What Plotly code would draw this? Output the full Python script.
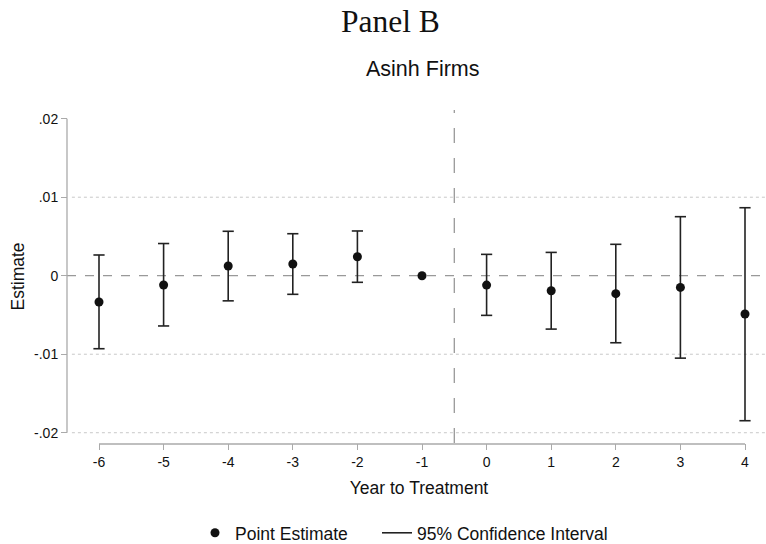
import plotly.graph_objects as go

# ---- data ----
years = [-6, -5, -4, -3, -2, -1, 0, 1, 2, 3, 4]
estimate = [-0.00335, -0.00118, 0.00124, 0.00149, 0.00242, 0.0, -0.00119, -0.00191, -0.00229, -0.00149, -0.00488]
ci_low = [-0.0093, -0.0064, -0.0032, -0.00237, -0.00084, None, -0.00505, -0.0068, -0.00854, -0.0105, -0.01847]
ci_high = [0.00264, 0.0041, 0.00566, 0.00535, 0.0057, None, 0.00272, 0.00297, 0.0040, 0.00752, 0.00866]
y_tick_vals = [-0.02, -0.01, 0, 0.01, 0.02]
y_tick_text = ["-.02", "-.01", "0", ".01", ".02"]
grid_vals = [-0.02, -0.01, 0.01]
treatment_line = -0.5

# build segments for CI whiskers
seg_x, seg_y = [], []
cap_x, cap_y = [], []
for x, lo, hi in zip(years, ci_low, ci_high):
    if lo is None or hi is None:
        continue
    seg_x += [x, x, None]
    seg_y += [lo, hi, None]
    cap_x += [x, x]
    cap_y += [lo, hi]

DARK = "#222222"
fig = go.Figure()

fig.add_trace(go.Scatter(
    x=seg_x, y=seg_y, mode="lines", name="95% Confidence Interval",
    line=dict(color=DARK, width=1.6), legend="legend2", hoverinfo="skip",
))
fig.add_trace(go.Scatter(
    x=cap_x, y=cap_y, mode="markers", showlegend=False,
    marker=dict(symbol="line-ew-open", size=8, color=DARK, line=dict(color=DARK, width=1.6)),
    hoverinfo="skip",
))
fig.add_trace(go.Scatter(
    x=years, y=estimate, mode="markers", name="Point Estimate",
    marker=dict(symbol="circle", size=9, color="#111111"), legend="legend",
))

shapes = []
for v in grid_vals:
    shapes.append(dict(type="line", xref="paper", x0=0.007, x1=1, yref="y", y0=v, y1=v,
                       line=dict(color="#c8c8c8", width=1, dash="dot"), layer="below"))
# zero line
shapes.append(dict(type="line", xref="paper", x0=0.0, x1=1, yref="y", y0=0, y1=0,
                   line=dict(color="#999999", width=1.3, dash="dash"), layer="below"))
# treatment line
shapes.append(dict(type="line", xref="x", x0=treatment_line, x1=treatment_line, yref="paper", y0=0, y1=1,
                   line=dict(color="#999999", width=1.3, dash="longdash"), layer="below"))
# y axis line
shapes.append(dict(type="line", xref="paper", x0=0, x1=0, yref="y", y0=min(y_tick_vals), y1=max(y_tick_vals),
                   line=dict(color="#aaaaaa", width=1.3)))
# x axis line
shapes.append(dict(type="line", xref="x", x0=min(years), x1=max(years), yref="paper", y0=-0.003, y1=-0.003,
                   line=dict(color="#aaaaaa", width=1.3)))

legend_common = dict(orientation="h", yanchor="middle", y=-0.27, xanchor="left",
                     font=dict(size=17.5), itemwidth=30, bgcolor="rgba(0,0,0,0)")

fig.update_layout(
    width=766, height=544,
    margin=dict(l=67, r=0, t=110, b=101, autoexpand=False),
    paper_bgcolor="white", plot_bgcolor="white",
    font=dict(family="Liberation Sans, Arial, sans-serif", color="#111111", size=15),
    shapes=shapes,
    xaxis=dict(
        domain=[5 / 699, 1], range=[-6.418, 4.325], automargin=False,
        tickvals=years, ticktext=[str(y) for y in years],
        ticks="outside", ticklen=6, tickcolor="#aaaaaa", tickwidth=1.3,
        showgrid=False, zeroline=False, showline=False,
        title=dict(text="Year to Treatment", font=dict(size=17.5), standoff=12),
        tickfont=dict(size=14),
    ),
    yaxis=dict(
        range=[-0.02131, 0.02111], anchor="free", position=0, automargin=False,
        tickvals=y_tick_vals, ticktext=y_tick_text,
        ticks="outside", ticklen=6, tickcolor="#aaaaaa", tickwidth=1.3,
        showgrid=False, zeroline=False, showline=False,
        title=dict(text="Estimate", font=dict(size=17.5), standoff=3),
        tickfont=dict(size=14),
    ),
    legend=dict(legend_common, x=(195 - 67) / 699),
    legend2=dict(legend_common, x=(377 - 67) / 699),
    annotations=[
        dict(text="Panel B", xref="paper", yref="paper", x=(390 - 67) / 699, y=(443 - 22) / 333,
             xanchor="center", yanchor="middle", showarrow=False,
             font=dict(family="Liberation Serif, Times New Roman, serif", size=31.5, color="#111111")),
        dict(text="Asinh Firms", xref="paper", yref="paper", x=(422 - 67) / 699, y=(443 - 69) / 333,
             xanchor="center", yanchor="middle", showarrow=False,
             font=dict(size=21.5, color="#111111")),
    ],
)

fig.write_html("out.html", config={"displayModeBar": False},
               post_script="document.body.style.margin='0';document.body.style.padding='0';")
